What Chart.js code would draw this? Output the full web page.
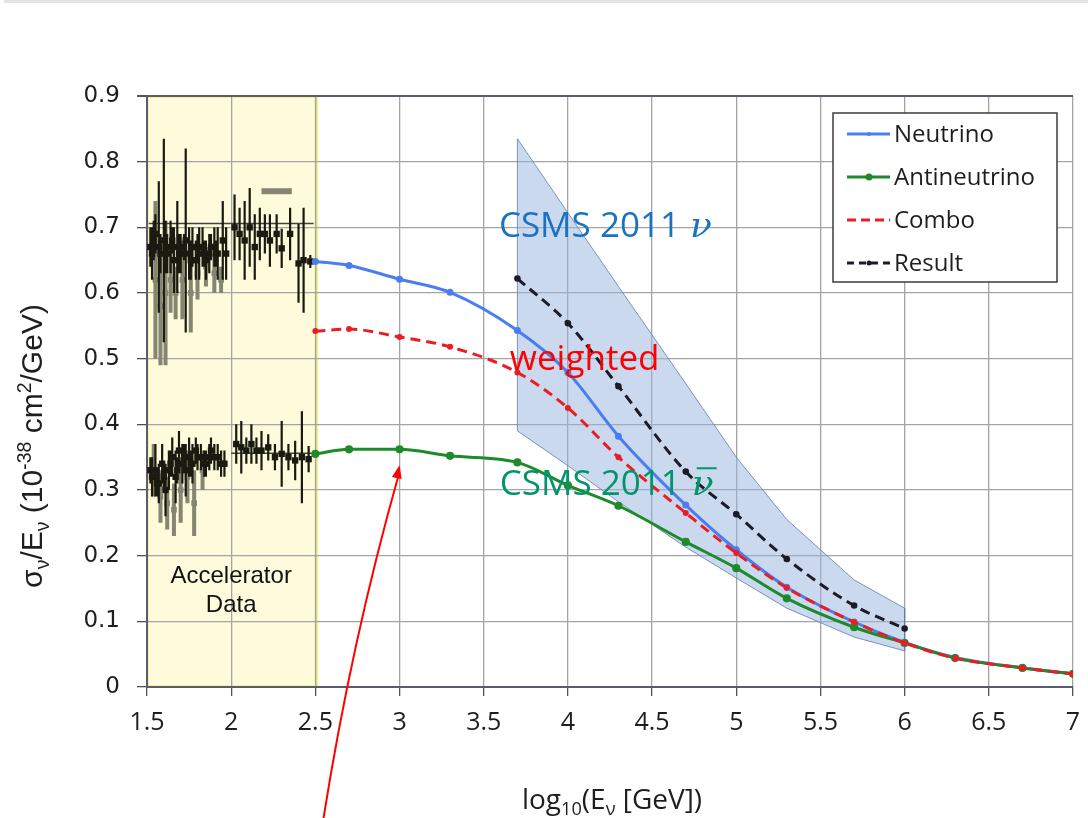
<!DOCTYPE html>
<html>
<head>
<meta charset="utf-8">
<script src="https://cdn.jsdelivr.net/npm/chart.js@4.4.0/dist/chart.umd.min.js"></script>
<style>
    html, body { margin: 0; padding: 0; background: #fff; }
    #wrap { position: relative; width: 1088px; height: 818px; }
    #topbar { position: absolute; left: 4px; top: 0; width: 1084px; height: 3px; background: #e4e4e4; }
</style>
</head>
<body>
<div id="wrap">
    <canvas id="chart" width="1088" height="818"></canvas>
    <div id="topbar"></div>
</div>
<script>
// CSMS-style curves (log10 of neutrino energy in GeV)
const logE = [2.5, 2.7, 3.0, 3.3, 3.7, 4.0, 4.3, 4.7, 5.0, 5.3, 5.7, 6.0, 6.3, 6.7, 7.0];
const neutrino = [0.648, 0.642, 0.621, 0.601, 0.543, 0.479, 0.382, 0.277, 0.209, 0.152, 0.099, 0.068, 0.045, 0.029, 0.020];
const antineutrino = [0.355, 0.362, 0.362, 0.352, 0.342, 0.307, 0.276, 0.221, 0.181, 0.135, 0.091, 0.067, 0.044, 0.029, 0.020];
const combo = [0.542, 0.545, 0.533, 0.518, 0.479, 0.425, 0.350, 0.265, 0.204, 0.151, 0.099, 0.067, 0.044, 0.029, 0.020];

const resultE = [3.7, 4.0, 4.3, 4.7, 5.0, 5.3, 5.7, 6.0];
const result = [0.622, 0.554, 0.458, 0.328, 0.263, 0.195, 0.124, 0.089];

// uncertainty band
const bandE = [3.7, 4.0, 4.3, 4.7, 5.0, 5.3, 5.7, 6.0];
const bandHigh = [0.835, 0.722, 0.610, 0.462, 0.350, 0.255, 0.163, 0.120];
const bandLow = [0.390, 0.337, 0.282, 0.213, 0.166, 0.120, 0.076, 0.055];

// accelerator measurements
const accelRange = [1.5, 2.5];
const nuAccX = [1.52, 1.53, 1.54, 1.55, 1.57, 1.58, 1.60, 1.61, 1.62, 1.64, 1.65, 1.66, 1.68, 1.69, 1.70, 1.72, 1.73, 1.75,
                1.76, 1.77, 1.79, 1.80, 1.81, 1.83, 1.84, 1.85, 1.87, 1.88, 1.90, 1.91, 1.92, 1.95, 1.97,
                2.02, 2.05, 2.08, 2.11, 2.14, 2.17, 2.20, 2.23, 2.27, 2.30, 2.35, 2.40, 2.43, 2.47];
const nuAccY = [0.67, 0.66, 0.68, 0.69, 0.67, 0.66, 0.68, 0.67, 0.66, 0.67, 0.68, 0.65, 0.67, 0.66, 0.66, 0.67, 0.68, 0.66,
                0.65, 0.67, 0.65, 0.67, 0.66, 0.67, 0.66, 0.65, 0.66, 0.67, 0.67, 0.66, 0.66, 0.68, 0.66,
                0.70, 0.69, 0.68, 0.70, 0.67, 0.69, 0.69, 0.68, 0.69, 0.668, 0.69, 0.645, 0.65, 0.648];
const nuAccErr = [0.03, 0.04, 0.03, 0.03, 0.10, 0.03, 0.155, 0.04, 0.03, 0.04, 0.02, 0.05, 0.07, 0.03, 0.03, 0.02, 0.14, 0.04,
                  0.03, 0.03, 0.03, 0.02, 0.04, 0.03, 0.02, 0.03, 0.03, 0.02, 0.03, 0.02, 0.04, 0.06, 0.04,
                  0.05, 0.04, 0.06, 0.06, 0.05, 0.04, 0.03, 0.04, 0.03, 0.03, 0.04, 0.06, 0.08, 0.01];
const nuOldX = [1.55, 1.58, 1.61, 1.64, 1.67, 1.71, 1.76, 1.80, 1.85, 1.90, 1.94];
const nuOldY = [0.62, 0.58, 0.60, 0.62, 0.60, 0.62, 0.60, 0.63, 0.64, 0.63, 0.62];
const nuOldErr = [0.12, 0.09, 0.11, 0.05, 0.04, 0.06, 0.06, 0.04, 0.03, 0.03, 0.02];
const nuWideX = [2.18, 2.36];
const nuWideY = [0.755, 0.755];
const nuRefX = [1.51, 2.49];
const nuRefY = [0.706, 0.706];

const nubarAccX = [1.52, 1.53, 1.55, 1.56, 1.57, 1.59, 1.60, 1.61, 1.63, 1.64, 1.65, 1.67, 1.68, 1.69, 1.71, 1.72, 1.73, 1.75,
                   1.76, 1.77, 1.79, 1.80, 1.82, 1.84, 1.85, 1.87, 1.88, 1.90, 1.92, 1.94, 1.96,
                   2.03, 2.06, 2.09, 2.12, 2.15, 2.18, 2.22, 2.26, 2.30, 2.34, 2.38, 2.42, 2.46];
const nubarAccY = [0.33, 0.32, 0.33, 0.31, 0.31, 0.34, 0.32, 0.30, 0.33, 0.34, 0.35, 0.32, 0.33, 0.36, 0.34, 0.35, 0.33, 0.35,
                   0.34, 0.34, 0.36, 0.35, 0.35, 0.34, 0.34, 0.35, 0.36, 0.35, 0.35, 0.34, 0.34,
                   0.37, 0.365, 0.36, 0.37, 0.36, 0.36, 0.365, 0.35, 0.355, 0.35, 0.345, 0.35, 0.347];
const nubarAccErr = [0.02, 0.03, 0.04, 0.02, 0.03, 0.03, 0.02, 0.04, 0.03, 0.02, 0.03, 0.04, 0.02, 0.03, 0.03, 0.02, 0.04, 0.03,
                     0.02, 0.03, 0.02, 0.02, 0.02, 0.02, 0.02, 0.02, 0.02, 0.02, 0.02, 0.02, 0.02,
                     0.03, 0.04, 0.02, 0.03, 0.02, 0.03, 0.02, 0.02, 0.05, 0.02, 0.03, 0.07, 0.02];
const nubarOldX = [1.54, 1.58, 1.62, 1.66, 1.70, 1.74, 1.78, 1.83];
const nubarOldY = [0.33, 0.29, 0.28, 0.27, 0.30, 0.32, 0.28, 0.33];
const nubarOldErr = [0.04, 0.04, 0.04, 0.04, 0.05, 0.04, 0.05, 0.03];
const nubarRefX = [2.0, 2.49];
const nubarRefY = [0.356, 0.356];

const yTicks = [0, 0.1, 0.2, 0.3, 0.4, 0.5, 0.6, 0.7, 0.8, 0.9];
const legendOrder = ['Neutrino', 'Antineutrino', 'Combo', 'Result'];

const BLUE = '#4a7ef0';
const GREEN = '#1f8a2c';
const RED = '#ec1c24';
const BLACK = '#1c1c28';
const DARK = '#1a1a10';
const GRAY = '#858572';

const pts = (xs, ys) => xs.map((x, i) => ({ x: x, y: ys[i] }));

function errorBars(xs, ys, errs) {
    const out = [];
    xs.forEach((x, i) => {
        out.push({ x: x, y: ys[i] - errs[i] }, { x: x, y: ys[i] + errs[i] }, { x: x, y: null });
    });
    return out;
}

function barDataset(xs, ys, errs, color, width, order) {
    return { data: errorBars(xs, ys, errs), borderColor: color, borderWidth: width, pointRadius: 0,
             spanGaps: false, fill: false, order: order };
}

function markDataset(xs, ys, color, radius, order) {
    return { data: pts(xs, ys), showLine: false, pointStyle: 'rect', pointRadius: radius,
             backgroundColor: color, borderColor: color, borderWidth: 0, order: order };
}

const bandData = [{ x: bandE[0], y: bandLow[0] }].concat(pts(bandE, bandHigh),
    [{ x: bandE[bandE.length - 1], y: bandLow[bandLow.length - 1] }]);

const datasets = [
    { label: 'Combo', legendDash: [9, 5], data: pts(logE, combo), borderColor: RED, backgroundColor: RED,
      borderWidth: 3, borderDash: [10, 6], pointRadius: 1.5, cubicInterpolationMode: 'monotone', order: 1 },
    { label: 'Result', legendDash: [7, 5], legendDot: 2.5, data: pts(resultE, result), borderColor: BLACK, backgroundColor: BLACK,
      borderWidth: 3, borderDash: [10, 6], pointRadius: 1.8, cubicInterpolationMode: 'monotone', order: 2 },
    { label: 'Antineutrino', legendDot: 3.5, data: pts(logE, antineutrino), borderColor: GREEN, backgroundColor: GREEN,
      borderWidth: 3, pointRadius: 2.6, cubicInterpolationMode: 'monotone', order: 3 },
    { label: 'Neutrino', legendDot: 2, data: pts(logE, neutrino), borderColor: BLUE, backgroundColor: BLUE,
      borderWidth: 3, pointRadius: 2, cubicInterpolationMode: 'monotone', order: 4 },
    { data: pts(bandE, bandLow), borderColor: 'rgba(95,125,175,0.8)', borderWidth: 1, pointRadius: 0,
      fill: false, order: 10 },
    { data: bandData, borderColor: 'rgba(95,125,175,0.8)', borderWidth: 1, pointRadius: 0,
      fill: '-1', backgroundColor: 'rgba(150,180,222,0.5)', order: 11 },
    // accelerator data
    barDataset(nuAccX, nuAccY, nuAccErr, DARK, 2.2, 20),
    markDataset(nuAccX, nuAccY, DARK, 4.5, 20),
    barDataset(nubarAccX, nubarAccY, nubarAccErr, DARK, 2.2, 20),
    markDataset(nubarAccX, nubarAccY, DARK, 4.5, 20),
    { data: pts(nuRefX, nuRefY), borderColor: '#444438', borderWidth: 1.5, pointRadius: 0, order: 21 },
    { data: pts(nubarRefX, nubarRefY), borderColor: '#444438', borderWidth: 1.5, pointRadius: 0, order: 21 },
    barDataset(nuOldX, nuOldY, nuOldErr, GRAY, 4, 22),
    markDataset(nuOldX, nuOldY, GRAY, 4, 22),
    barDataset(nubarOldX, nubarOldY, nubarOldErr, GRAY, 4, 22),
    markDataset(nubarOldX, nubarOldY, GRAY, 4, 22),
    { data: pts(nuWideX, nuWideY), borderColor: GRAY, borderWidth: 6, pointRadius: 0, order: 22 }
];

// annotation anchors in data units
const notes = [
    { text: 'CSMS 2011', x: 3.59, y: 0.686, color: '#1a72c2', nu: 'plain' },
    { text: 'weighted', x: 3.655, y: 0.482, color: '#ff0000' },
    { text: 'CSMS 2011', x: 3.595, y: 0.292, color: '#00956c', nu: 'bar' }
];

const accelPlugin = {
    id: 'accel',
    beforeDraw(chart) {
        const { ctx, chartArea, scales } = chart;
        const x0 = scales.x.getPixelForValue(accelRange[0]);
        const x1 = scales.x.getPixelForValue(accelRange[1]);
        ctx.save();
        ctx.fillStyle = '#fdfbdb';
        ctx.fillRect(x0, chartArea.top, x1 - x0, chartArea.bottom - chartArea.top);
        ctx.strokeStyle = '#f3f08c';
        ctx.lineWidth = 1.5;
        ctx.strokeRect(x0 + 1, chartArea.top + 1, x1 - x0 - 1, chartArea.bottom - chartArea.top - 2);
        ctx.lineWidth = 3;
        ctx.strokeStyle = '#f1ee78';
        ctx.beginPath();
        ctx.moveTo(x1 + 1, chartArea.top);
        ctx.lineTo(x1 + 1, chartArea.bottom);
        ctx.stroke();
        ctx.restore();
    }
};

function drawRuns(ctx, runs, family, size, cx, cy) {
    const widths = runs.map(r => {
        const s = r[1] ? size * 0.65 : size;
        ctx.font = s + 'px ' + family;
        return ctx.measureText(r[0]).width;
    });
    let x = cx - widths.reduce((a, b) => a + b, 0) / 2;
    ctx.textAlign = 'left';
    ctx.textBaseline = 'alphabetic';
    runs.forEach((r, i) => {
        const s = r[1] ? size * 0.65 : size;
        const dy = r[1] === 'sub' ? size * 0.22 : r[1] === 'sup' ? -size * 0.38 : 0;
        ctx.font = s + 'px ' + family;
        ctx.fillText(r[0], x, cy + dy);
        x += widths[i];
    });
}

const overlayPlugin = {
    id: 'overlay',
    afterDatasetsDraw(chart) {
        const { ctx, scales } = chart;
        const xs = scales.x, ys = scales.y;
        ctx.save();

        // accelerator label
        ctx.fillStyle = '#111';
        ctx.font = '24px "Liberation Sans", Arial, sans-serif';
        ctx.textAlign = 'center';
        ctx.textBaseline = 'alphabetic';
        const ax = xs.getPixelForValue((accelRange[0] + accelRange[1]) / 2);
        ctx.fillText('Accelerator', ax, ys.getPixelForValue(0.158));
        ctx.fillText('Data', ax, ys.getPixelForValue(0.114));

        // text annotations
        notes.forEach(n => {
            const px = xs.getPixelForValue(n.x);
            const py = ys.getPixelForValue(n.y);
            ctx.fillStyle = n.color;
            ctx.strokeStyle = n.color;
            ctx.font = '35px "Open Sans", sans-serif';
            ctx.textAlign = 'left';
            ctx.fillText(n.text, px, py);
            if (n.nu) {
                const w = ctx.measureText(n.text).width;
                const gx = px + w + (n.nu === 'plain' ? 10 : 11);
                ctx.font = 'italic 36px "DejaVu Serif", serif';
                ctx.fillText('\u03bd', gx, py);
                if (n.nu === 'bar') {
                    const gw = ctx.measureText('\u03bd').width;
                    ctx.lineWidth = 2;
                    ctx.beginPath();
                    ctx.moveTo(gx + 5, py - 27);
                    ctx.lineTo(gx + gw + 3, py - 27);
                    ctx.stroke();
                }
            }
        });

        // red arrow pointing at the antineutrino curve at 1 TeV
        const tipX = xs.getPixelForValue(logE[2]);
        const tipY = ys.getPixelForValue(antineutrino[2]) + 16;
        const tailX = tipX - 76;
        const tailY = chart.height;
        const ang = Math.atan2(tipY - tailY, tipX - tailX);
        ctx.strokeStyle = '#ff0000';
        ctx.fillStyle = '#ff0000';
        ctx.lineWidth = 2;
        ctx.beginPath();
        ctx.moveTo(tailX, tailY);
        ctx.quadraticCurveTo(tailX + 28, (tailY + tipY) / 2, tipX - 2 * Math.cos(ang), tipY + 8);
        ctx.stroke();
        ctx.beginPath();
        ctx.moveTo(tipX, tipY);
        ctx.lineTo(tipX - 13 * Math.cos(ang) + 5 * Math.sin(ang), tipY - 13 * Math.sin(ang) - 5 * Math.cos(ang));
        ctx.lineTo(tipX - 13 * Math.cos(ang) - 5 * Math.sin(ang), tipY - 13 * Math.sin(ang) + 5 * Math.cos(ang));
        ctx.closePath();
        ctx.fill();
        ctx.restore();
    },
    afterDraw(chart) {
        const { ctx, chartArea } = chart;
        ctx.save();

        // legend box
        const bx = chartArea.right - 16, by = chartArea.top + 17;
        const bw = 224, bh = 169;
        ctx.fillStyle = '#fff';
        ctx.fillRect(bx - bw, by, bw, bh);
        ctx.strokeStyle = '#3c3c3c';
        ctx.lineWidth = 1.5;
        ctx.strokeRect(bx - bw, by, bw, bh);
        const entries = legendOrder.map(name => chart.data.datasets.find(d => d.label === name));
        entries.forEach((d, i) => {
            const ry = by + 21 + i * 43;
            const lx = bx - bw + 14;
            ctx.strokeStyle = d.borderColor;
            ctx.lineWidth = 3;
            ctx.setLineDash(d.legendDash || []);
            ctx.beginPath();
            ctx.moveTo(lx, ry);
            ctx.lineTo(lx + 43, ry);
            ctx.stroke();
            ctx.setLineDash([]);
            if (d.legendDot) {
                ctx.fillStyle = d.borderColor;
                ctx.beginPath();
                ctx.arc(lx + 22, ry, d.legendDot, 0, Math.PI * 2);
                ctx.fill();
            }
            ctx.fillStyle = '#1e1e1e';
            ctx.font = '24px "Open Sans", sans-serif';
            ctx.textAlign = 'left';
            ctx.textBaseline = 'middle';
            ctx.fillText(d.label, lx + 47, ry + 1);
        });

        // axis titles
        ctx.fillStyle = '#1e1e1e';
        drawRuns(ctx, [['log', ''], ['10', 'sub'], ['(E', ''], ['\u03bd', 'sub'], [' [GeV])', '']],
                 '"Open Sans", sans-serif', 28, (chartArea.left + chartArea.right) / 2 + 2, 809);
        ctx.translate(42, 446);
        ctx.rotate(-Math.PI / 2);
        drawRuns(ctx, [['\u03c3', ''], ['\u03bd', 'sub'], ['/E', ''], ['\u03bd', 'sub'], [' (10', ''], ['-38', 'sup'],
                       [' cm', ''], ['2', 'sup'], ['/GeV)', '']],
                 '"Liberation Sans", Arial, sans-serif', 30, 0, 0);
        ctx.restore();
    }
};

const ctx = document.getElementById('chart').getContext('2d');
new Chart(ctx, {
    type: 'line',
    data: { datasets: datasets },
    options: {
        responsive: false,
        animation: false,
        layout: { padding: { top: 96, right: 15, left: 0, bottom: 0 } },
        plugins: { legend: { display: false }, tooltip: { enabled: false } },
        scales: {
            x: {
                type: 'linear',
                min: 1.5,
                max: 7,
                afterFit: s => { s.height = 131; s.paddingRight = 0; },
                ticks: {
                    stepSize: 0.5,
                    color: '#1e1e1e',
                    padding: 12,
                    callback: v => String(Math.round(v * 10) / 10),
                    font: { family: '"Open Sans", sans-serif', size: 25 }
                },
                grid: { color: '#a4a4a4', lineWidth: 1.3, tickLength: 9, tickColor: '#50505e' },
                border: { color: '#5c5c6e', width: 2 }
            },
            y: {
                min: 0,
                max: 0.9,
                afterFit: s => { s.width = 147; },
                afterBuildTicks: s => { s.ticks = yTicks.map(v => ({ value: v })); },
                ticks: {
                    color: '#1e1e1e',
                    padding: 17,
                    callback: v => (v === 0 ? '0' : v.toFixed(1)),
                    font: { family: '"DejaVu Sans", sans-serif', size: 23 }
                },
                grid: {
                    color: c => (c.tick && c.tick.value === 0.9 ? '#5c5c6e' : '#a4a4a4'),
                    lineWidth: c => (c.tick && c.tick.value === 0.9 ? 2 : 1.3),
                    tickLength: 10,
                    tickColor: '#50505e'
                },
                border: { color: '#5c5c6e', width: 2 }
            }
        }
    },
    plugins: [accelPlugin, overlayPlugin]
});
</script>
</body>
</html>
